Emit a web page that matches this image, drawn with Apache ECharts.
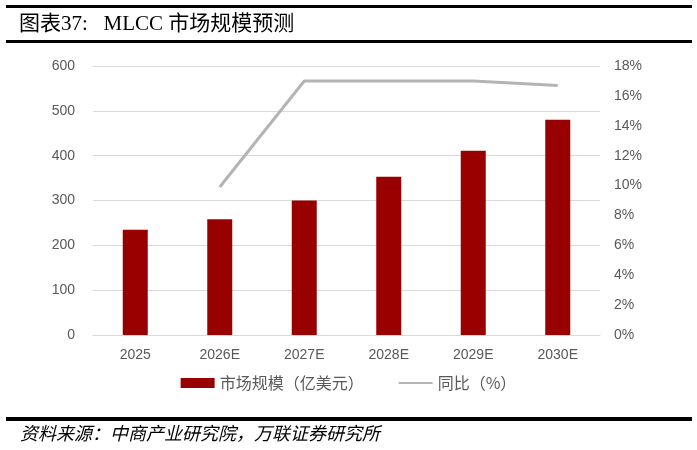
<!DOCTYPE html>
<html><head><meta charset="utf-8">
<script src="https://cdn.jsdelivr.net/npm/echarts@6/dist/echarts.min.js"></script>
<style>html,body{margin:0;padding:0;background:#fff}#c{width:697px;height:450px}</style>
</head><body><div id="c"></div>
<script>
const categories = ['2025','2026E','2027E','2028E','2029E','2030E'];
const marketSize = [235, 258, 300, 353, 411, 480];
const yoy = [null, 9.9, 17.0, 17.0, 17.0, 16.7];
const leftTicks = [0, 600, 100];
const rightTicks = [0, 18, 2];

const chart = echarts.init(document.getElementById('c'));
chart.setOption({
  animation: false,
  textStyle: {fontFamily: 'Arial, "Liberation Sans", sans-serif'},
  graphic: [
    {type:'rect', shape:{x:6,y:5,width:686,height:3}, style:{fill:'#000'}},
    {type:'text', left:19, top:14, style:{text:'图表37:   MLCC 市场规模预测', font:'21px "Liberation Serif", "Noto Sans CJK SC", serif', fill:'#000'}},
    {type:'rect', shape:{x:6,y:40,width:686,height:3}, style:{fill:'#000'}},
    {type:'rect', shape:{x:6,y:417,width:686,height:4}, style:{fill:'#000'}},
    {type:'text', left:20, top:426, style:{text:'资料来源：中商产业研究院，万联证券研究所', font:'italic 18px "Liberation Serif", "Noto Sans CJK SC", serif', fill:'#000'}}
  ],
  legend: {
    bottom: 54, left: 'center', itemGap: 34, itemWidth: 34, itemHeight: 10,
    textStyle: {color:'#595959', fontSize:16, fontFamily:'"Noto Sans CJK SC", sans-serif'},
    data: [{name:'市场规模（亿美元）', icon:'rect'}, {name:'同比（%）', itemStyle:{opacity:0}}]
  },
  grid: {left:93, right:97, top:66, bottom:115},
  xAxis: {
    type:'category', data: categories,
    axisLine:{lineStyle:{color:'#d9d9d9'}}, axisTick:{show:false},
    axisLabel:{color:'#595959', fontSize:14, margin:13}
  },
  yAxis: [
    {type:'value', min:leftTicks[0], max:leftTicks[1], interval:leftTicks[2],
     axisLine:{show:false}, axisTick:{show:false},
     splitLine:{lineStyle:{color:'#d9d9d9', width:1}},
     axisLabel:{color:'#595959', fontSize:14, margin:18}},
    {type:'value', min:rightTicks[0], max:rightTicks[1], interval:rightTicks[2],
     axisLine:{show:false}, axisTick:{show:false}, splitLine:{show:false},
     axisLabel:{color:'#595959', fontSize:14, margin:14, formatter: v => v + '%'}}
  ],
  series: [
    {name:'市场规模（亿美元）', type:'bar', data: marketSize, barWidth:25,
     itemStyle:{color:'#990000'}},
    {name:'同比（%）', type:'line', yAxisIndex:1, data: yoy, symbol:'none',
     lineStyle:{color:'#b4b4b4', width:3}, itemStyle:{color:'#b4b4b4'}}
  ]
});
</script></body></html>
